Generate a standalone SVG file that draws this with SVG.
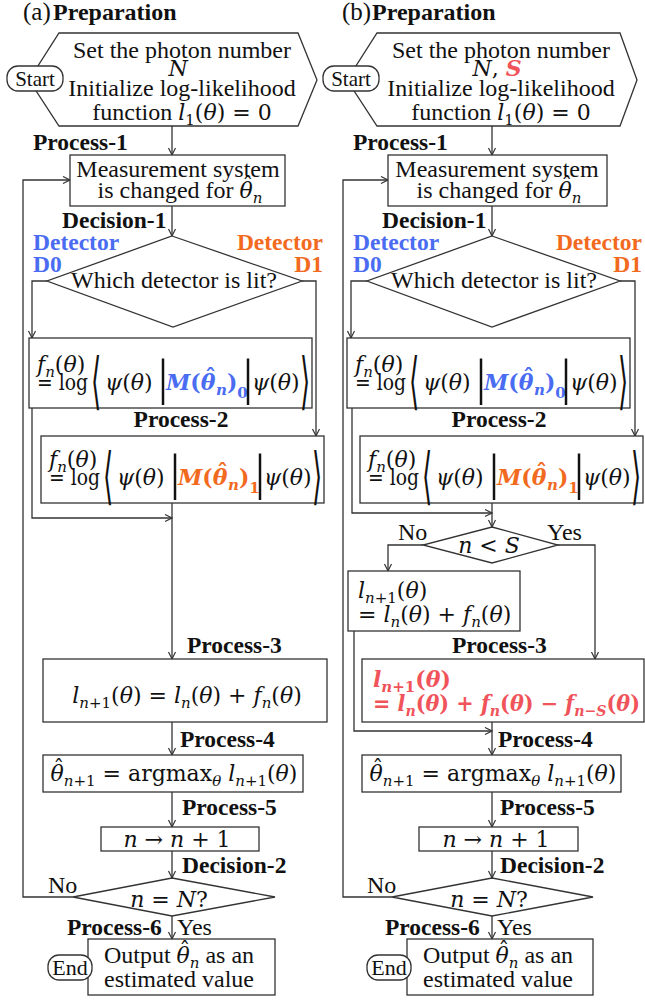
<svg xmlns="http://www.w3.org/2000/svg" width="645" height="1001" viewBox="0 0 645 1001">
<style>
.s{font-family:"Liberation Serif","Times New Roman",serif;fill:#111}
.r{font-size:24px}
.bd{font-weight:bold;font-size:23.5px}
.it{font-style:italic}
.n{font-style:normal}
.m{font-family:"DejaVu Serif","Liberation Serif",serif;font-size:22px;fill:#111}
.mf{font-family:"DejaVu Serif","Liberation Serif",serif;font-size:22px}
.sb{font-size:15px}
.c{text-anchor:middle}
.e{text-anchor:end}
.blue{fill:#4a6cf2}
.org{fill:#f26a1e}
.red{fill:#f0535a}
.box{fill:#fff;stroke:#333;stroke-width:1.3}
.ln{fill:none;stroke:#333;stroke-width:1.3}
.ar{marker-end:url(#ah)}
.dl{font-family:"DejaVu Sans",sans-serif;fill:#111}
.bar{font-family:"Liberation Serif","Times New Roman",serif;font-size:50px;fill:#111}
</style>
<defs>
<marker id="ah" markerWidth="10" markerHeight="10" refX="8" refY="4" orient="auto" markerUnits="userSpaceOnUse">
<path d="M1,0.5 L8,4 L1,7.5" fill="none" stroke="#333" stroke-width="1.2"/>
</marker>
</defs>

<!-- connectors -->
<g id="connectors">
<path class="ln ar" d="M172,126 V155"/>
<path class="ln ar" d="M172,206 V236"/>
<path class="ln ar" d="M47,281 H32 V338"/>
<path class="ln ar" d="M302,281 H316 V436"/>
<path class="ln ar" d="M32,408 V518 H172"/>
<path class="ln ar" d="M172,503 V659"/>
<path class="ln ar" d="M172,722 V755"/>
<path class="ln ar" d="M172,792 V827"/>
<path class="ln ar" d="M172,851 V878"/>
<path class="ln ar" d="M73,897 H23 V180 H70"/>
<path class="ln ar" d="M172,916 V939"/>
<path class="ln ar" d="M492,126 V155"/>
<path class="ln ar" d="M492,206 V236"/>
<path class="ln ar" d="M367,281 H351 V338"/>
<path class="ln ar" d="M620,281 H635 V436"/>
<path class="ln ar" d="M352,408 V513 H492"/>
<path class="ln ar" d="M492,503 V527"/>
<path class="ln ar" d="M423,545 H388 V571"/>
<path class="ln ar" d="M558,545 H595 V659"/>
<path class="ln ar" d="M354,631 V731 H492"/>
<path class="ln ar" d="M492,722 V755"/>
<path class="ln ar" d="M492,792 V827"/>
<path class="ln ar" d="M492,851 V878"/>
<path class="ln ar" d="M392,897 H343 V180 H388"/>
<path class="ln ar" d="M492,916 V939"/>
</g>

<!-- ================= PANEL A ================= -->
<text class="s" x="23" y="20" font-size="25">(a)</text>
<text class="s" x="53" y="20" font-size="24" font-weight="bold">Preparation</text>

<g id="a-prep">
<polygon class="box" points="59,33 298,33 317,80 298,126 59,126 29,80"/>
<text class="s r c" x="182" y="58">Set the photon number</text>
<text class="m c it" x="178" y="76">N</text>
<text class="s r c" x="182" y="96">Initialize log-likelihood</text>
<text class="s r c" x="182" y="120">function <tspan class="mf it">l</tspan><tspan class="mf sb" dy="5">1</tspan><tspan class="mf" dy="-5">(</tspan><tspan class="mf it">θ</tspan><tspan class="mf">) = 0</tspan></text>
</g>
<g id="a-start">
<rect class="box" x="7" y="66" width="56" height="25" rx="11"/>
<text class="s c" x="35" y="86" font-size="21">Start</text>
</g>

<text class="s bd" x="33" y="150">Process-1</text>
<g id="a-p1">
<rect class="box" x="70" y="155" width="215" height="51"/>
<text class="s r c" x="178" y="177">Measurement system</text>
<text class="s r c" x="180" y="198">is changed for <tspan class="mf it">θ</tspan><tspan class="mf n" dx="-10.5" dy="-5">ˆ</tspan><tspan class="mf sb it" dx="-0.5" dy="10">n</tspan></text>
</g>

<text class="s bd" x="62" y="228">Decision-1</text>
<g id="a-d1">
<polygon class="box" points="172,236 302,281 173,327 47,281"/>
<text class="s r c" x="174" y="288">Which detector is lit?</text>
</g>
<text class="s bd blue" x="33" y="250">Detector</text>
<text class="s bd blue" x="33" y="272">D0</text>
<text class="s bd org e" x="323" y="250">Detector</text>
<text class="s bd org e" x="323" y="272">D1</text>

<g id="a-p2a" transform="translate(29,338)">
<rect class="box" x="0" y="0" width="283" height="70"/>
<text class="m" x="8" y="34"><tspan class="it">f</tspan><tspan class="sb it" dy="5">n</tspan><tspan dy="-5">(</tspan><tspan class="it">θ</tspan>)</text>
<text class="m" x="8" y="52" font-size="20" textLength="51" lengthAdjust="spacingAndGlyphs">= log</text>
<text class="dl" transform="translate(62,64) scale(0.42,1)" font-size="62">⟨</text>
<text class="m it" x="76" y="52">ψ<tspan class="n">(</tspan>θ<tspan class="n">)</tspan></text>
<text class="bar" x="129" y="56">|</text>
<text class="m it blue" x="137" y="52" font-weight="bold" font-size="21">M<tspan class="n">(</tspan>θ<tspan class="n" dx="-10.5" dy="-5">ˆ</tspan><tspan class="sb" dy="10">n</tspan><tspan class="n" dy="-5">)</tspan><tspan class="sb n" dy="8">0</tspan></text>
<text class="bar" x="214" y="56">|</text>
<text class="m it" x="223" y="52">ψ<tspan class="n">(</tspan>θ<tspan class="n">)</tspan></text>
<text class="dl" transform="translate(271,64) scale(0.42,1)" font-size="62">⟩</text>
</g>

<text class="s bd c" x="181" y="427">Process-2</text>
<g id="a-p2b" transform="translate(41,436)">
<rect class="box" x="0" y="0" width="283" height="67"/>
<text class="m" x="8" y="31"><tspan class="it">f</tspan><tspan class="sb it" dy="5">n</tspan><tspan dy="-5">(</tspan><tspan class="it">θ</tspan>)</text>
<text class="m" x="8" y="49" font-size="20" textLength="51" lengthAdjust="spacingAndGlyphs">= log</text>
<text class="dl" transform="translate(62,61) scale(0.42,1)" font-size="62">⟨</text>
<text class="m it" x="76" y="49">ψ<tspan class="n">(</tspan>θ<tspan class="n">)</tspan></text>
<text class="bar" x="129" y="53">|</text>
<text class="m it org" x="137" y="49" font-weight="bold" font-size="21">M<tspan class="n">(</tspan>θ<tspan class="n" dx="-10.5" dy="-5">ˆ</tspan><tspan class="sb" dy="10">n</tspan><tspan class="n" dy="-5">)</tspan><tspan class="sb n" dy="8">1</tspan></text>
<text class="bar" x="214" y="53">|</text>
<text class="m it" x="223" y="49">ψ<tspan class="n">(</tspan>θ<tspan class="n">)</tspan></text>
<text class="dl" transform="translate(271,61) scale(0.42,1)" font-size="62">⟩</text>
</g>

<text class="s bd" x="187" y="653">Process-3</text>
<g id="a-p3">
<rect class="box" x="43" y="659" width="284" height="63"/>
<text class="m c" x="187" y="703"><tspan class="it">l</tspan><tspan class="sb" dy="5"><tspan class="it">n</tspan>+1</tspan><tspan dy="-5">(</tspan><tspan class="it">θ</tspan>) = <tspan class="it">l</tspan><tspan class="sb it" dy="5">n</tspan><tspan dy="-5">(</tspan><tspan class="it">θ</tspan>) + <tspan class="it">f</tspan><tspan class="sb it" dy="5">n</tspan><tspan dy="-5">(</tspan><tspan class="it">θ</tspan>)</text>
</g>

<text class="s bd" x="180" y="747">Process-4</text>
<g id="a-p4">
<rect class="box" x="43" y="755" width="260" height="37"/>
<text class="m c" x="174" y="781"><tspan class="it">θ</tspan><tspan class="n" dx="-10.5" dy="-5">ˆ</tspan><tspan class="sb" dx="-0.5" dy="10"><tspan class="it">n</tspan>+1</tspan><tspan dy="-5"> = argmax</tspan><tspan class="sb it" dy="5">θ</tspan><tspan class="it" dy="-5"> l</tspan><tspan class="sb" dy="5"><tspan class="it">n</tspan>+1</tspan><tspan dy="-5">(</tspan><tspan class="it">θ</tspan>)</text>
</g>

<text class="s bd" x="182" y="815">Process-5</text>
<g id="a-p5">
<rect class="box" x="101" y="827" width="158" height="24"/>
<text class="m c" x="177" y="847"><tspan class="it">n</tspan> → <tspan class="it">n</tspan> + 1</text>
</g>

<text class="s bd" x="182" y="873">Decision-2</text>
<g id="a-d2">
<polygon class="box" points="172,878 275,897 172,916 73,897"/>
<text class="m c" x="169" y="907"><tspan class="it">n</tspan> = <tspan class="it">N</tspan>?</text>
</g>
<text class="s r" x="48" y="893">No</text>
<text class="s bd" x="67" y="935">Process-6</text>
<text class="s r" x="177" y="935">Yes</text>

<g id="a-out">
<rect class="box" x="88" y="939" width="187" height="56"/>
<text class="s r c" x="179" y="963">Output <tspan class="mf it">θ</tspan><tspan class="mf n" dx="-10.5" dy="-5">ˆ</tspan><tspan class="mf sb it" dx="-0.5" dy="10">n</tspan><tspan dy="-5"> as an</tspan></text>
<text class="s r c" x="179" y="987">estimated value</text>
</g>
<g id="a-end">
<rect class="box" x="48" y="955" width="44" height="25" rx="11"/>
<text class="s c" x="70" y="975" font-size="22">End</text>
</g>

<!-- ================= PANEL B ================= -->
<text class="s" x="342" y="20" font-size="25">(b)</text>
<text class="s" x="372" y="20" font-size="24" font-weight="bold">Preparation</text>

<g id="b-prep">
<polygon class="box" points="377,33 620,33 637,80 620,126 377,126 347,80"/>
<text class="s r c" x="501" y="58">Set the photon number</text>
<text class="m c" x="497" y="76"><tspan class="it">N</tspan>, <tspan class="it red" font-weight="bold">S</tspan></text>
<text class="s r c" x="501" y="96">Initialize log-likelihood</text>
<text class="s r c" x="501" y="120">function <tspan class="mf it">l</tspan><tspan class="mf sb" dy="5">1</tspan><tspan class="mf" dy="-5">(</tspan><tspan class="mf it">θ</tspan><tspan class="mf">) = 0</tspan></text>
</g>
<g id="b-start">
<rect class="box" x="323" y="66" width="56" height="25" rx="11"/>
<text class="s c" x="351" y="86" font-size="21">Start</text>
</g>

<text class="s bd" x="353" y="150">Process-1</text>
<g id="b-p1">
<rect class="box" x="388" y="155" width="219" height="51"/>
<text class="s r c" x="497" y="177">Measurement system</text>
<text class="s r c" x="499" y="198">is changed for <tspan class="mf it">θ</tspan><tspan class="mf n" dx="-10.5" dy="-5">ˆ</tspan><tspan class="mf sb it" dx="-0.5" dy="10">n</tspan></text>
</g>

<text class="s bd" x="382" y="228">Decision-1</text>
<g id="b-d1">
<polygon class="box" points="492,236 620,281 492,327 367,281"/>
<text class="s r c" x="494" y="288">Which detector is lit?</text>
</g>
<text class="s bd blue" x="353" y="250">Detector</text>
<text class="s bd blue" x="353" y="272">D0</text>
<text class="s bd org e" x="642" y="250">Detector</text>
<text class="s bd org e" x="642" y="272">D1</text>

<g id="b-p2a" transform="translate(347,338)">
<rect class="box" x="0" y="0" width="283" height="70"/>
<text class="m" x="8" y="34"><tspan class="it">f</tspan><tspan class="sb it" dy="5">n</tspan><tspan dy="-5">(</tspan><tspan class="it">θ</tspan>)</text>
<text class="m" x="8" y="52" font-size="20" textLength="51" lengthAdjust="spacingAndGlyphs">= log</text>
<text class="dl" transform="translate(62,64) scale(0.42,1)" font-size="62">⟨</text>
<text class="m it" x="76" y="52">ψ<tspan class="n">(</tspan>θ<tspan class="n">)</tspan></text>
<text class="bar" x="129" y="56">|</text>
<text class="m it blue" x="137" y="52" font-weight="bold" font-size="21">M<tspan class="n">(</tspan>θ<tspan class="n" dx="-10.5" dy="-5">ˆ</tspan><tspan class="sb" dy="10">n</tspan><tspan class="n" dy="-5">)</tspan><tspan class="sb n" dy="8">0</tspan></text>
<text class="bar" x="214" y="56">|</text>
<text class="m it" x="223" y="52">ψ<tspan class="n">(</tspan>θ<tspan class="n">)</tspan></text>
<text class="dl" transform="translate(271,64) scale(0.42,1)" font-size="62">⟩</text>
</g>

<text class="s bd c" x="499" y="427">Process-2</text>
<g id="b-p2b" transform="translate(360,436)">
<rect class="box" x="0" y="0" width="283" height="67"/>
<text class="m" x="8" y="31"><tspan class="it">f</tspan><tspan class="sb it" dy="5">n</tspan><tspan dy="-5">(</tspan><tspan class="it">θ</tspan>)</text>
<text class="m" x="8" y="49" font-size="20" textLength="51" lengthAdjust="spacingAndGlyphs">= log</text>
<text class="dl" transform="translate(62,61) scale(0.42,1)" font-size="62">⟨</text>
<text class="m it" x="76" y="49">ψ<tspan class="n">(</tspan>θ<tspan class="n">)</tspan></text>
<text class="bar" x="129" y="53">|</text>
<text class="m it org" x="137" y="49" font-weight="bold" font-size="21">M<tspan class="n">(</tspan>θ<tspan class="n" dx="-10.5" dy="-5">ˆ</tspan><tspan class="sb" dy="10">n</tspan><tspan class="n" dy="-5">)</tspan><tspan class="sb n" dy="8">1</tspan></text>
<text class="bar" x="214" y="53">|</text>
<text class="m it" x="223" y="49">ψ<tspan class="n">(</tspan>θ<tspan class="n">)</tspan></text>
<text class="dl" transform="translate(271,61) scale(0.42,1)" font-size="62">⟩</text>
</g>

<g id="b-dS">
<polygon class="box" points="492,527 558,545 492,563 423,545"/>
<text class="m c" x="489" y="553"><tspan class="it">n</tspan> &lt; <tspan class="it">S</tspan></text>
</g>
<text class="s r" x="398" y="540">No</text>
<text class="s r" x="547" y="540">Yes</text>

<g id="b-p3a">
<rect class="box" x="348" y="571" width="172" height="60"/>
<text class="m" x="358" y="598"><tspan class="it">l</tspan><tspan class="sb" dy="5"><tspan class="it">n</tspan>+1</tspan><tspan dy="-5">(</tspan><tspan class="it">θ</tspan>)</text>
<text class="m" x="358" y="622">= <tspan class="it">l</tspan><tspan class="sb it" dy="5">n</tspan><tspan dy="-5">(</tspan><tspan class="it">θ</tspan>) + <tspan class="it">f</tspan><tspan class="sb it" dy="5">n</tspan><tspan dy="-5">(</tspan><tspan class="it">θ</tspan>)</text>
</g>

<text class="s bd" x="452" y="653">Process-3</text>
<g id="b-p3b">
<rect class="box" x="362" y="659" width="282" height="63"/>
<text class="m red it" font-weight="bold" font-size="21" x="373" y="687">l<tspan class="sb" dy="5">n<tspan class="n">+1</tspan></tspan><tspan class="n" dy="-5">(</tspan>θ<tspan class="n">)</tspan></text>
<text class="m red it" font-weight="bold" font-size="21" x="373" y="711" textLength="267" lengthAdjust="spacingAndGlyphs"><tspan class="n">= </tspan>l<tspan class="sb" dy="5">n</tspan><tspan class="n" dy="-5">(</tspan>θ<tspan class="n">) + </tspan>f<tspan class="sb" dy="5">n</tspan><tspan class="n" dy="-5">(</tspan>θ<tspan class="n">) − </tspan>f<tspan class="sb" dy="5">n<tspan class="n">−</tspan>S</tspan><tspan class="n" dy="-5">(</tspan>θ<tspan class="n">)</tspan></text>
</g>

<text class="s bd" x="498" y="747">Process-4</text>
<g id="b-p4">
<rect class="box" x="362" y="755" width="259" height="37"/>
<text class="m c" x="493" y="781"><tspan class="it">θ</tspan><tspan class="n" dx="-10.5" dy="-5">ˆ</tspan><tspan class="sb" dx="-0.5" dy="10"><tspan class="it">n</tspan>+1</tspan><tspan dy="-5"> = argmax</tspan><tspan class="sb it" dy="5">θ</tspan><tspan class="it" dy="-5"> l</tspan><tspan class="sb" dy="5"><tspan class="it">n</tspan>+1</tspan><tspan dy="-5">(</tspan><tspan class="it">θ</tspan>)</text>
</g>

<text class="s bd" x="500" y="815">Process-5</text>
<g id="b-p5">
<rect class="box" x="419" y="827" width="159" height="24"/>
<text class="m c" x="496" y="847"><tspan class="it">n</tspan> → <tspan class="it">n</tspan> + 1</text>
</g>

<text class="s bd" x="500" y="873">Decision-2</text>
<g id="b-d2">
<polygon class="box" points="492,878 593,897 492,916 392,897"/>
<text class="m c" x="489" y="907"><tspan class="it">n</tspan> = <tspan class="it">N</tspan>?</text>
</g>
<text class="s r" x="367" y="893">No</text>
<text class="s bd" x="385" y="935">Process-6</text>
<text class="s r" x="497" y="935">Yes</text>

<g id="b-out">
<rect class="box" x="407" y="939" width="186" height="56"/>
<text class="s r c" x="498" y="963">Output <tspan class="mf it">θ</tspan><tspan class="mf n" dx="-10.5" dy="-5">ˆ</tspan><tspan class="mf sb it" dx="-0.5" dy="10">n</tspan><tspan dy="-5"> as an</tspan></text>
<text class="s r c" x="498" y="987">estimated value</text>
</g>
<g id="b-end">
<rect class="box" x="367" y="955" width="44" height="25" rx="11"/>
<text class="s c" x="389" y="975" font-size="22">End</text>
</g>
</svg>
